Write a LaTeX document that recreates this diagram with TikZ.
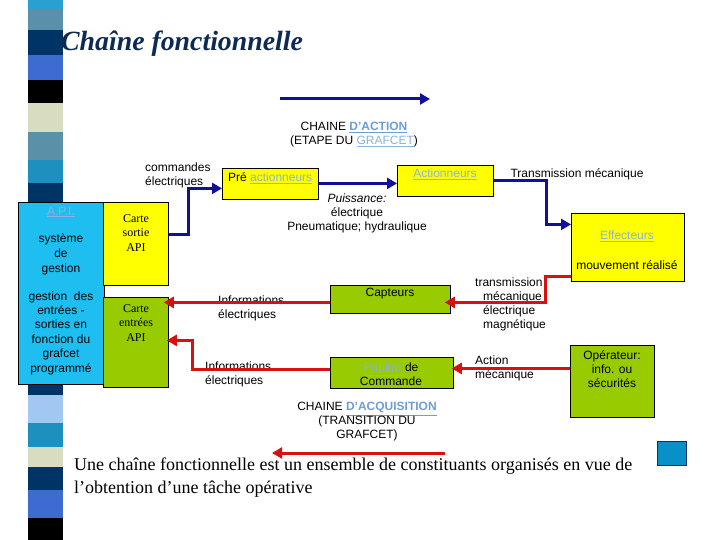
\documentclass[tikz,border=0pt]{standalone}
\usepackage{fontspec}
\setmainfont{Liberation Serif}
\setsansfont{Liberation Sans}
\usetikzlibrary{arrows.meta}
\definecolor{yel}{HTML}{FFFF00}
\definecolor{grn}{HTML}{99CC00}
\definecolor{apic}{HTML}{1EBFF0}
\definecolor{bluec}{HTML}{10109C}
\definecolor{redc}{HTML}{D81010}
\definecolor{linkc}{HTML}{8AB2DC}
\definecolor{linkb}{HTML}{6C9ED8}
\definecolor{titlec}{HTML}{0D2B52}
\definecolor{cyanS}{HTML}{2AA0D0}
\definecolor{steelS}{HTML}{5A90A8}
\definecolor{navyS}{HTML}{003366}
\definecolor{royalS}{HTML}{3C6CD0}
\definecolor{beigeS}{HTML}{D8DCC0}
\definecolor{cyan2S}{HTML}{1E90C0}
\definecolor{lightS}{HTML}{A0C8F0}
\definecolor{sqc}{HTML}{0A90C8}
\newcommand{\lnk}[1]{{\color{linkc}\underline{#1}}}
\newcommand{\lnkb}[1]{{\color{linkb}\bfseries\underline{#1}}}
\tikzset{
  sans/.style={font=\sffamily\fontsize{12}{14}\selectfont, inner sep=0pt, align=center},
  serifs/.style={font=\rmfamily\fontsize{12}{14.5}\selectfont, inner sep=0pt, align=center},
  box/.style={draw=black, line width=0.8pt, inner sep=0pt, anchor=north west},
  ybox/.style={box, fill=yel},
  gbox/.style={box, fill=grn},
  barrow/.style={draw=bluec, line width=3pt, -{Triangle[length=10pt,width=11pt]}},
  rarrow/.style={draw=redc, line width=3pt, -{Triangle[length=10pt,width=11pt]}},
}
\begin{document}
\begin{tikzpicture}[x=1pt,y=-1pt]
\useasboundingbox (0,0) rectangle (720,540);
\fill[white] (0,0) rectangle (720,540);
% decorative stripe bar
\foreach \ya/\yb/\c in {0/10/cyanS,10/30/steelS,30/55/navyS,55/80/royalS,80/103/black,103/132/beigeS,132/160/steelS,160/183/cyan2S,183/202/navyS,384/395/navyS,395/423/lightS,423/447/cyan2S,447/467/beigeS,467/490/navyS,490/518/royalS,518/540/black}
  \fill[\c] (28,\ya) rectangle (63,\yb);
% title
\node[anchor=west, font=\rmfamily\bfseries\itshape\fontsize{27.8}{32}\selectfont, text=titlec, inner sep=0pt] (title) at (61,44) {Chaîne fonctionnelle};
% boxes
\node[box, fill=apic, minimum width=86pt, minimum height=182pt] (api) at (18,202) {};
\node[ybox, minimum width=65pt, minimum height=83pt] (sortie) at (103,202) {};
\node[gbox, minimum width=65pt, minimum height=90pt] (entree) at (103,297) {};
\node[ybox, minimum width=96pt, minimum height=31pt] (pre) at (222,168) {};
\node[ybox, minimum width=96pt, minimum height=31pt] (act) at (397,165) {};
\node[ybox, minimum width=113pt, minimum height=68pt] (eff) at (571,213) {};
\node[gbox, minimum width=120pt, minimum height=28pt] (cap) at (330,285) {};
\node[gbox, minimum width=123pt, minimum height=31pt] (pup) at (330,357) {};
\node[gbox, minimum width=84pt, minimum height=72pt] (op) at (570,345) {};
\node[draw=navyS, fill=sqc, line width=0.8pt, minimum width=29pt, minimum height=24pt, anchor=north west, inner sep=0pt] (sq) at (657,441) {};
% texts in boxes
\node[sans] (apit) at (61,212) {\lnk{A.P.I.}};
\node[sans, font=\sffamily\fontsize{12}{15}\selectfont] (apis) at (61,254) {système\\de\\gestion};
\node[sans, font=\sffamily\fontsize{12}{14.4}\selectfont] (apig) at (61,333) {gestion\ \ des\\entrées -\\sorties en\\fonction du\\grafcet\\programmé};
\node[serifs] (sortiet) at (136,233) {Carte\\sortie\\API};
\node[serifs] (entreet) at (136,323) {Carte\\entrées\\API};
\node[sans, anchor=west] (pret) at (228,178) {Pré \lnk{actionneurs}};
\node[sans] (actt) at (445,174) {\lnk{Actionneurs}};
\node[sans] (efft) at (627,236) {\lnk{Effecteurs}};
\node[sans] (mvt) at (627,265) {mouvement réalisé};
\node[sans] (capt) at (390,294) {Capteurs};
\node[sans] (pupt) at (391,374) {\lnk{Pupitre} de\\Commande};
\node[sans] (opt) at (612,369) {Opérateur:\\info. ou\\sécurités};
% free labels
\node[sans, align=left, anchor=west] (cmd) at (145,175) {commandes\\électriques};
\node[sans] (chact) at (354,135) {CHAINE \lnkb{D’ACTION}\\(ETAPE DU \lnk{GRAFCET})};
\node[sans] (puis) at (357,213) {\textit{Puissance:}\\électrique\\Pneumatique; hydraulique};
\node[sans] (trm) at (577,174) {Transmission mécanique};
\node[sans, align=left, anchor=north west] (trmag) at (475,278) {transmission\\\hspace*{8pt}mécanique\\\hspace*{8pt}électrique\\\hspace*{8pt}magnétique};
\node[sans, align=left, anchor=west] (info1) at (218,308) {Informations\\électriques};
\node[sans, align=left, anchor=west] (info2) at (205,374) {Informations\\électriques};
\node[sans, align=left, anchor=west] (actm) at (475,368) {Action\\mécanique};
\node[sans] (chacq) at (367,422) {CHAINE \lnkb{D’ACQUISITION}\\(TRANSITION DU\\GRAFCET)};
\node[anchor=north west, align=left, inner sep=0pt, font=\rmfamily\fontsize{18}{23}\selectfont] (def) at (74,458) {Une chaîne fonctionnelle est un ensemble de constituants organisés en vue de\\l’obtention d’une tâche opérative};
% big direction arrows
\coordinate (ta) at (280,99);
\coordinate (tb) at (430,99);
\coordinate (ba) at (445,453);
\coordinate (bb) at (272,453);
\draw[barrow] (ta) -- (tb);
\draw[rarrow] (ba) -- (bb);
% blue connectors
\draw[barrow] ([yshift=9.5pt]sortie.east) -- ++(20,0) |- ([yshift=-4.5pt]pre.west);
\draw[barrow] ([yshift=0.5pt]pre.east) -- ([yshift=0.5pt]pre.east -| act.west);
\draw[barrow] (act.east) -- ++(53,0) |- ([yshift=23pt]eff.west);
% red connectors
\draw[rarrow, shorten >=-6pt] ([yshift=-29pt]eff.west) -- ++(-26,0) |- ([yshift=-3pt]cap.east);
\draw[rarrow, shorten >=-5pt] ([yshift=-3pt]cap.west) -- ([yshift=-3pt]cap.west -| entree.east);
\draw[rarrow, shorten >=-2pt] ([yshift=3pt]pup.west) -- ++(-138,0) |- ([yshift=2pt]entree.east);
\draw[rarrow, shorten >=-2pt] ([yshift=13pt]op.west) -- ([yshift=13pt]op.west -| pup.east);
\end{tikzpicture}
\end{document}
